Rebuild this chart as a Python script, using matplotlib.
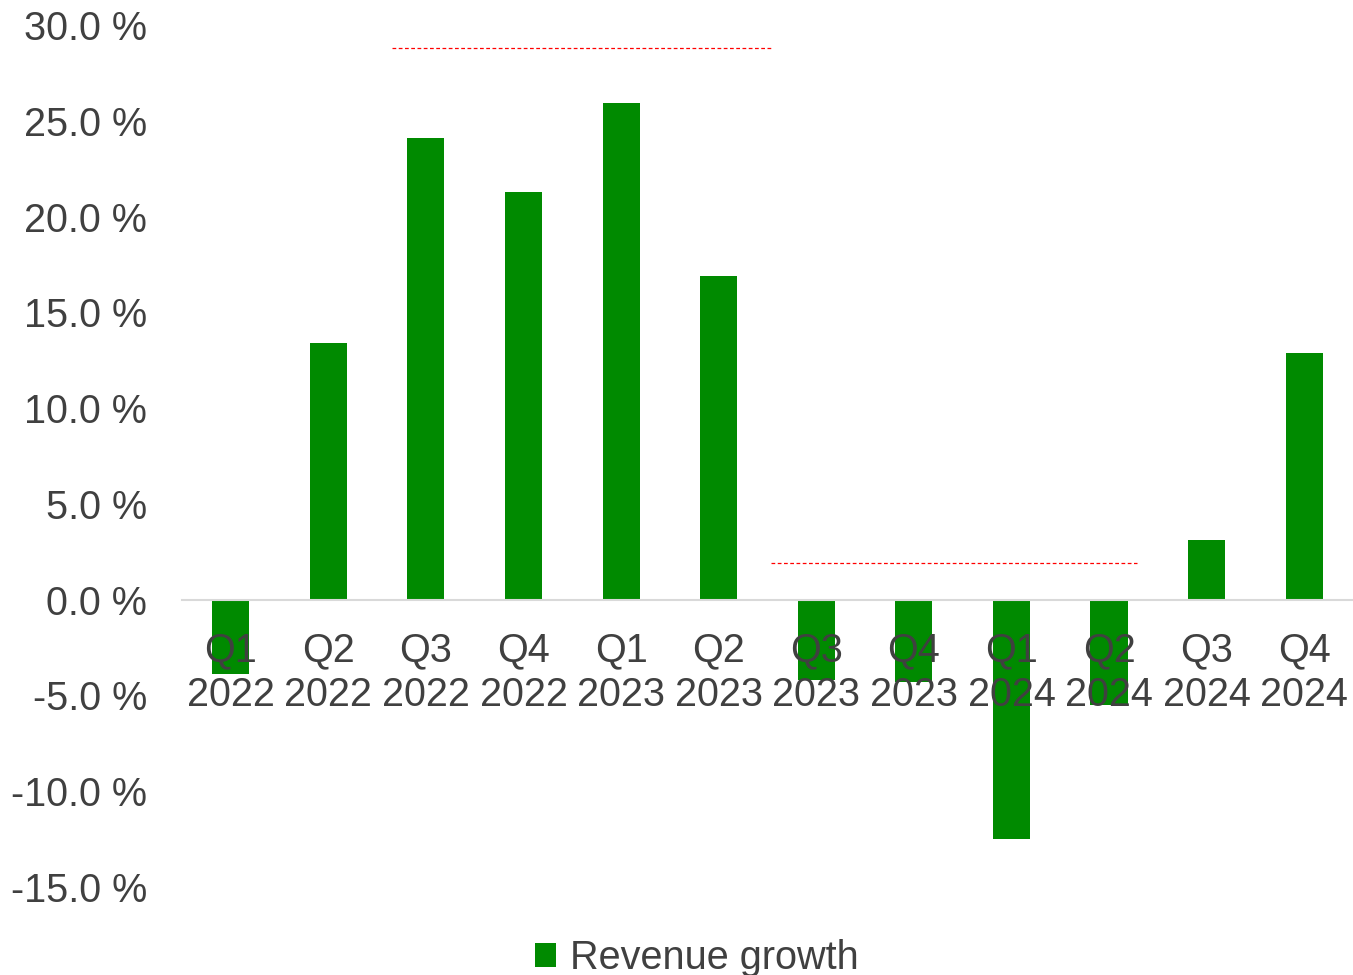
import matplotlib
matplotlib.use("Agg")
import matplotlib.pyplot as plt
from matplotlib.ticker import FuncFormatter, MultipleLocator

plt.rcParams['font.family'] = ['Liberation Sans', 'DejaVu Sans']

quarters = ["Q1\n2022", "Q2\n2022", "Q3\n2022", "Q4\n2022",
            "Q1\n2023", "Q2\n2023", "Q3\n2023", "Q4\n2023",
            "Q1\n2024", "Q2\n2024", "Q3\n2024", "Q4\n2024"]
growth = [-3.9, 13.4, 24.1, 21.3, 25.9, 16.9, -4.2, -4.3, -12.5, -5.5, 3.1, 12.9]

# dashed reference lines: (x start, x end, level) in category units
ref_lines = [(1.65, 5.54, 28.8), (5.54, 9.29, 1.9)]

GREEN = "#008a00"
TEXT = "#404040"

fig = plt.figure(figsize=(13.53, 9.75), dpi=100)
ax = fig.add_axes([0.1345, 0.0903, 0.8655, 0.8841])

x = range(len(quarters))
ax.bar(x, growth, width=0.38, color=GREEN, label="Revenue growth", zorder=1)

for x0, x1, lvl in ref_lines:
    ax.plot([x0, x1], [lvl, lvl], color="red", lw=0.9, dashes=(3, 2))

ax.set_xlim(-0.5, 11.5)
ax.set_ylim(-15, 30)
ax.yaxis.set_major_locator(MultipleLocator(5))
ax.yaxis.set_major_formatter(FuncFormatter(lambda v, p: f"{v:.1f} %"))

ax.set_xticks(list(x))
ax.set_xticklabels(quarters, linespacing=1.12)

for s in ["top", "right", "left"]:
    ax.spines[s].set_visible(False)
ax.spines["bottom"].set_position(("data", 0))
ax.spines["bottom"].set_color("#d9d9d9")
ax.spines["bottom"].set_linewidth(1.5)

ax.tick_params(axis="x", length=0, pad=23, labelsize=28.5, labelcolor=TEXT)
ax.tick_params(axis="y", length=0, pad=25, labelsize=28.5, labelcolor=TEXT)

leg = fig.legend(loc="lower center", bbox_to_anchor=(0.515, -0.039), frameon=False,
                 fontsize=28.5, handlelength=0.55, handleheight=0.55, handletextpad=0.35)
for t in leg.get_texts():
    t.set_color(TEXT)

fig.savefig("out.png", dpi=100)
